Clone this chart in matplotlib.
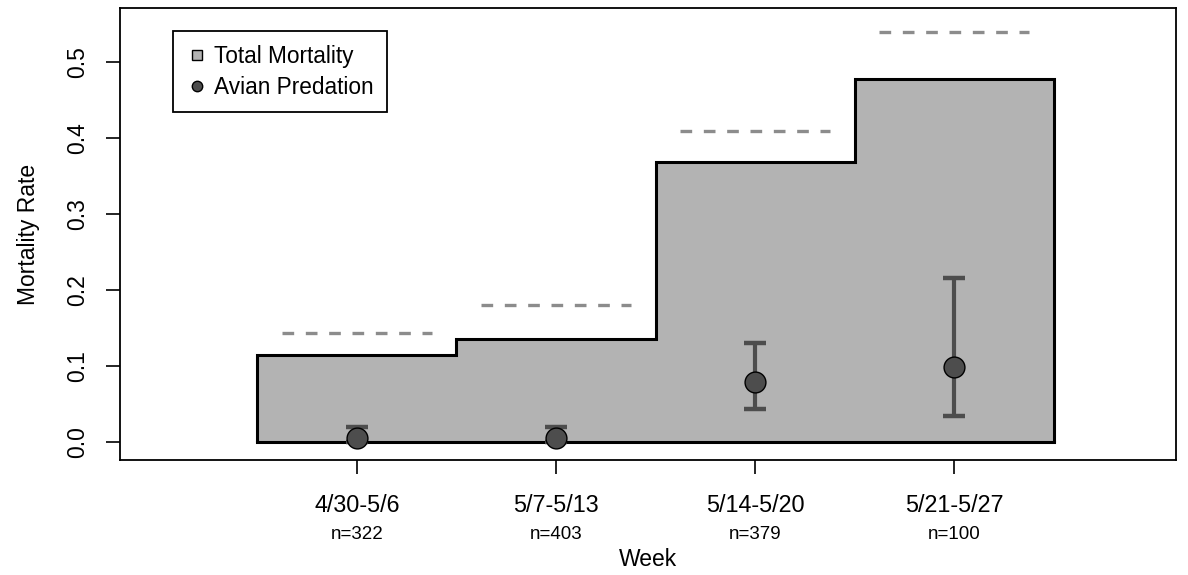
import matplotlib
matplotlib.use("Agg")
import matplotlib.pyplot as plt
import numpy as np
from matplotlib.lines import Line2D

plt.rcParams['font.family'] = ['Liberation Sans', 'DejaVu Sans']

weeks = ["4/30-5/6", "5/7-5/13", "5/14-5/20", "5/21-5/27"]
n_fish = [322, 403, 379, 100]
total_mort = [0.114, 0.136, 0.368, 0.477]
total_upper = [0.143, 0.180, 0.409, 0.539]
avian = [0.005, 0.005, 0.079, 0.099]
avian_lo = [0.0, 0.0, 0.044, 0.034]
avian_hi = [0.020, 0.020, 0.130, 0.216]

x = np.arange(1, len(weeks) + 1)
edges = np.append(x - 0.5, x[-1] + 0.5)

fig = plt.figure(figsize=(11.88, 5.75), dpi=100)
ax = fig.add_axes([0.101, 0.200, 0.889, 0.786])

ax.stairs(total_mort, edges, baseline=0, fill=True, facecolor='#b3b3b3',
          edgecolor='none', zorder=1)
ax.stairs(total_mort, edges, baseline=0, fill=False, color='black',
          linewidth=2.2, zorder=2)
ax.plot([edges[0], edges[-1]], [0, 0], color='black', lw=2.2, zorder=2)

# dashed upper bound of total mortality
ax.hlines(total_upper, x - 0.375, x + 0.375, colors='#8c8c8c',
          linewidth=2.4, linestyles=(0, (3.5, 3.5)), zorder=2)

yerr = [np.array(avian) - np.array(avian_lo), np.array(avian_hi) - np.array(avian)]
ax.errorbar(x, avian, yerr=yerr, fmt='none', ecolor='#4d4d4d', elinewidth=3,
            capsize=8, capthick=3.2, zorder=3)
ax.plot(x, avian, 'o', ms=15, mfc='#4d4d4d', mec='black', mew=1, zorder=4)

ax.set_xlim(-0.19, 5.115)
ax.set_ylim(-0.0237, 0.571)
ax.set_yticks([0.0, 0.1, 0.2, 0.3, 0.4, 0.5])
ax.set_yticklabels(["0.0", "0.1", "0.2", "0.3", "0.4", "0.5"], rotation=90,
                   va='center', fontsize=16.5)
ax.set_xticks(x)
ax.set_xticklabels(weeks, fontsize=16.8)
ax.tick_params(axis='both', length=10, width=1.2)
ax.tick_params(axis='x', pad=14.5)
ax.tick_params(axis='y', pad=12.5)
for s in ax.spines.values():
    s.set_linewidth(1.3)

for xi, n in zip(x, n_fish):
    ax.annotate(f"n={n}", xy=(xi, 0), xycoords=('data', 'axes fraction'),
                xytext=(0, -47.5), textcoords='offset points', ha='center',
                va='top', fontsize=13.5)

ax.set_xlabel("Week", fontsize=16.5, va='center')
ax.xaxis.set_label_coords(0.5, -0.221)
ax.set_ylabel("Mortality Rate", fontsize=16.5, va='center')
ax.yaxis.set_label_coords(-0.087, 0.5)

handles = [
    Line2D([], [], ls='none', marker='s', ms=6.5, mfc='#b3b3b3', mec='black', mew=1),
    Line2D([], [], ls='none', marker='o', ms=7.5, mfc='#4d4d4d', mec='black', mew=1),
]
leg = ax.legend(handles, ["Total Mortality", "Avian Predation"], loc='upper left',
                bbox_to_anchor=(0.050, 0.949), fontsize=16.3, fancybox=False,
                edgecolor='black', framealpha=1, handletextpad=0.3,
                handlelength=0.9, borderpad=0.6, labelspacing=0.35,
                borderaxespad=0)
leg.get_frame().set_linewidth(1.3)

fig.savefig("out.png", dpi=100)
